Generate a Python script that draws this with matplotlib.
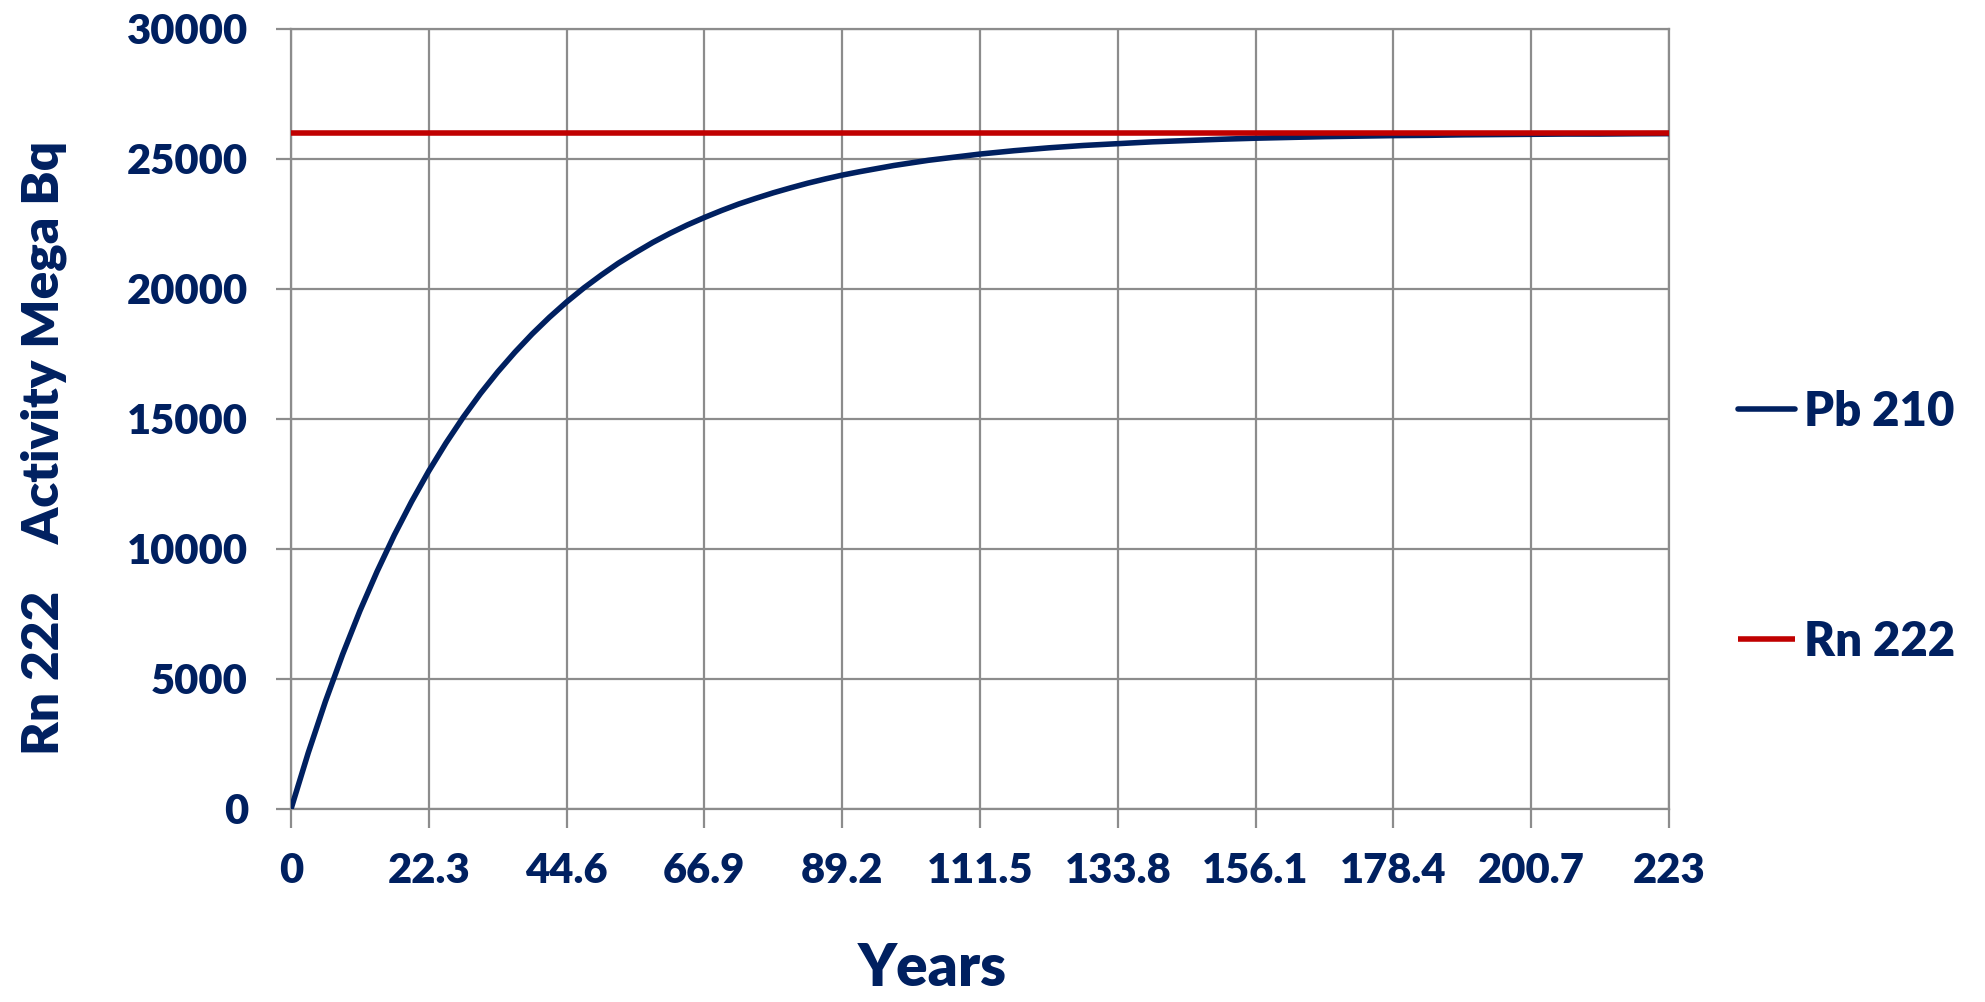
import matplotlib
matplotlib.use("Agg")
import matplotlib.pyplot as plt

# ---- data ----
years = [0, 2.79, 5.575, 8.36, 11.15, 13.94, 16.725, 19.51, 22.3, 25.09, 27.875, 30.66,
         33.45, 36.24, 39.025, 41.81, 44.6, 47.39, 50.175, 52.96, 55.75, 58.54, 61.325,
         64.11, 66.9, 69.69, 72.475, 75.26, 78.05, 80.84, 83.625, 86.41, 89.2, 91.99,
         94.775, 97.56, 100.35, 103.14, 105.925, 108.71, 111.5, 117.075, 122.65, 128.225,
         133.8, 139.375, 144.95, 150.525, 156.1, 161.675, 167.25, 172.825, 178.4, 183.975,
         189.55, 195.125, 200.7, 206.275, 211.85, 217.425, 223]
pb210 = [0, 2160, 4140, 5950, 7620, 9140, 10540, 11820, 13000, 14080, 15070, 15980,
         16810, 17570, 18270, 18910, 19500, 20040, 20530, 20990, 21400, 21790, 22140,
         22460, 22750, 23020, 23270, 23490, 23700, 23890, 24070, 24230, 24380, 24510,
         24630, 24750, 24850, 24950, 25030, 25110, 25190, 25320, 25430, 25520,
         25590, 25660, 25710, 25760, 25800, 25830, 25860, 25880, 25900, 25910,
         25930, 25940, 25950, 25960, 25960, 25970, 25975]
rn222_years = [0, 223]
rn222 = [26000, 26000]
xticks = [0, 22.3, 44.6, 66.9, 89.2, 111.5, 133.8, 156.1, 178.4, 200.7, 223]
xtick_labels = ["0", "22.3", "44.6", "66.9", "89.2", "111.5", "133.8", "156.1", "178.4", "200.7", "223"]
yticks = [0, 5000, 10000, 15000, 20000, 25000, 30000]

NAVY = "#002060"
RED = "#C00000"
GRID = "#8C8C8C"
W = 'heavy'

plt.rcParams['font.family'] = ['Lato', 'DejaVu Sans']
plt.rcParams['font.weight'] = W

fig = plt.figure(figsize=(19.85, 10.02), dpi=100)
ax = fig.add_axes([291/1985, 1 - 809/1002, (1669-291)/1985, (809-29)/1002])

ax.plot(years, pb210, color=NAVY, lw=4.0, label="Pb 210", solid_capstyle='round',
        solid_joinstyle='round', zorder=3)
ax.plot(rn222_years, rn222, color=RED, lw=4.0, label="Rn 222", solid_capstyle='butt', zorder=3)

ax.set_xlim(0, 223)
ax.set_ylim(0, 30000)
ax.set_xticks(xticks)
ax.set_xticklabels(xtick_labels)
ax.set_yticks(yticks)
ax.set_yticklabels([str(v) for v in yticks])
ax.grid(True, color=GRID, lw=1.6)
ax.set_axisbelow(True)
for s in ax.spines.values():
    s.set_color(GRID)
    s.set_linewidth(1.6)
ax.tick_params(axis='both', colors=GRID, width=1.6, labelcolor=NAVY, labelsize=30)
ax.tick_params(axis='x', length=14, pad=17)
ax.tick_params(axis='y', length=11, pad=20)
for lab in ax.get_xticklabels() + ax.get_yticklabels():
    lab.set_fontweight(W)

fig.text(932/1985, 1 - 968/1002, "Years", ha='center', va='center',
         fontsize=42, fontweight=W, color=NAVY)
fig.text(44/1985, 1 - 448/1002, "Rn 222    Activity Mega Bq", ha='center', va='center',
         rotation=90, fontsize=37, fontweight=W, color=NAVY)

leg = fig.legend(loc='center left', bbox_to_anchor=(1719/1985, 1 - 527/1002),
                 frameon=False, fontsize=34, handlelength=1.2, handletextpad=0.2,
                 labelspacing=3.94, borderaxespad=0)
for t in leg.get_texts():
    t.set_color(NAVY)
    t.set_fontweight(W)

fig.savefig("out.png", dpi=100)
